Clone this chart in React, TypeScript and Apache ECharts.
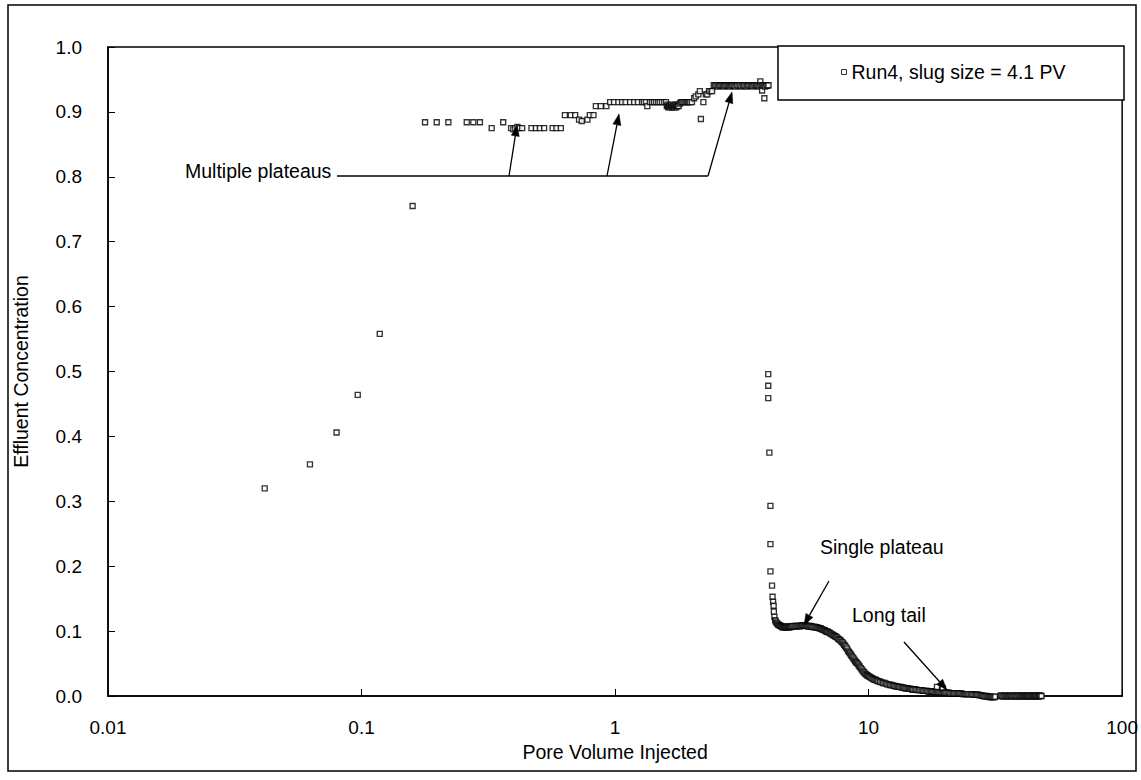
import { useEffect, useRef } from "react";
import * as echarts from "echarts";

const FONT = "'Liberation Sans', Arial, Helvetica, sans-serif";

const seriesName = "Run4, slug size = 4.1 PV";
const xAxisTitle = "Pore Volume Injected";
const yAxisTitle = "Effluent Concentration";
const xTicks = [0.01, 0.1, 1, 10, 100];
const yTicks = [0, 0.1, 0.2, 0.3, 0.4, 0.5, 0.6, 0.7, 0.8, 0.9, 1.0];

// [pore volume injected, effluent concentration]
const risePoints: [number, number][] = [
  [0.0415, 0.32], [0.0626, 0.357], [0.0797, 0.406], [0.0966, 0.464], [0.118, 0.558], [0.159, 0.755],
];

const lowPlateau: [number, number][] = [
  [0.178, 0.884], [0.198, 0.884], [0.22, 0.884], [0.26, 0.884], [0.276, 0.884], [0.293, 0.884],
  [0.326, 0.875], [0.362, 0.884], [0.389, 0.875], [0.397, 0.873], [0.404, 0.875], [0.412, 0.877],
  [0.419, 0.875], [0.43, 0.875], [0.468, 0.875], [0.487, 0.875], [0.505, 0.875], [0.525, 0.875],
  [0.567, 0.875], [0.587, 0.875], [0.611, 0.875], [0.634, 0.895], [0.669, 0.895], [0.696, 0.895],
  [0.721, 0.888], [0.739, 0.886], [0.778, 0.888], [0.795, 0.895], [0.822, 0.895],
];

const midPlateau: [number, number][] = [
  [0.84, 0.909], [0.878, 0.909], [0.924, 0.909], [0.956, 0.915], [0.99, 0.915], [1.03, 0.915],
  [1.065, 0.915], [1.1, 0.915], [1.146, 0.915], [1.188, 0.915], [1.23, 0.915], [1.277, 0.915],
  [1.3, 0.915], [1.324, 0.915], [1.34, 0.909], [1.373, 0.915], [1.4, 0.915], [1.424, 0.915],
  [1.45, 0.915], [1.477, 0.915], [1.5, 0.915], [1.53, 0.915], [1.56, 0.915], [1.587, 0.915],
  [1.6, 0.909], [1.61, 0.911], [1.62, 0.907], [1.63, 0.909], [1.64, 0.909], [1.65, 0.907],
  [1.66, 0.909], [1.67, 0.911], [1.68, 0.907], [1.69, 0.909], [1.7, 0.909], [1.71, 0.907],
  [1.72, 0.909], [1.73, 0.911], [1.74, 0.907], [1.75, 0.909], [1.76, 0.909], [1.77, 0.911],
  [1.78, 0.909], [1.8, 0.913], [1.82, 0.915], [1.84, 0.915], [1.86, 0.915], [1.88, 0.915],
  [1.9, 0.915], [1.92, 0.915], [1.94, 0.915], [1.96, 0.915], [1.98, 0.915], [2.01, 0.915],
  [2.05, 0.921], [2.08, 0.924], [2.13, 0.927], [2.16, 0.932], [2.18, 0.889], [2.23, 0.915],
  [2.28, 0.927], [2.31, 0.927], [2.345, 0.932], [2.38, 0.932], [2.414, 0.932],
];

const topPlateau: [number, number][] = [
  [2.45, 0.941], [2.48, 0.94], [2.51, 0.941], [2.54, 0.939], [2.57, 0.941], [2.6, 0.94],
  [2.63, 0.941], [2.66, 0.94], [2.69, 0.939], [2.72, 0.941], [2.75, 0.94], [2.78, 0.941],
  [2.81, 0.94], [2.84, 0.939], [2.87, 0.941], [2.9, 0.94], [2.93, 0.941], [2.96, 0.94],
  [2.99, 0.939], [3.03, 0.941], [3.07, 0.94], [3.11, 0.941], [3.15, 0.939], [3.19, 0.94],
  [3.23, 0.941], [3.27, 0.94], [3.31, 0.939], [3.35, 0.941], [3.39, 0.94], [3.43, 0.941],
  [3.47, 0.94], [3.51, 0.939], [3.55, 0.941], [3.59, 0.94], [3.63, 0.941], [3.67, 0.94],
  [3.71, 0.939], [3.74, 0.947], [3.75, 0.941], [3.79, 0.94], [3.8, 0.933], [3.83, 0.941],
  [3.87, 0.94], [3.88, 0.921], [3.91, 0.939], [3.95, 0.941], [3.99, 0.94], [4.03, 0.941],
];

const dropPoints: [number, number][] = [
  [4.02, 0.496], [4.02, 0.478], [4.02, 0.459], [4.06, 0.375], [4.1, 0.293], [4.1, 0.234],
  [4.1, 0.192], [4.16, 0.17], [4.18, 0.153], [4.2, 0.145], [4.22, 0.139], [4.23, 0.13],
  [4.25, 0.122], [4.28, 0.117],
];

const decayPoints: [number, number][] = [
  [4.3, 0.115], [4.33, 0.113], [4.36, 0.112], [4.39, 0.11], [4.42, 0.11], [4.45, 0.109],
  [4.48, 0.108], [4.51, 0.108], [4.54, 0.107], [4.57, 0.106], [4.6, 0.107], [4.63, 0.106],
  [4.66, 0.107], [4.69, 0.106], [4.72, 0.106], [4.75, 0.107], [4.78, 0.106], [4.81, 0.107],
  [4.84, 0.106], [4.87, 0.107], [4.9, 0.106], [4.93, 0.107], [4.96, 0.107], [5.0, 0.107],
  [5.05, 0.108], [5.1, 0.107], [5.15, 0.108], [5.2, 0.107], [5.25, 0.108], [5.3, 0.108],
  [5.35, 0.107], [5.4, 0.108], [5.45, 0.109], [5.5, 0.108], [5.55, 0.109], [5.6, 0.108],
  [5.65, 0.109], [5.7, 0.108], [5.75, 0.107], [5.8, 0.108], [5.85, 0.107], [5.9, 0.108],
  [5.95, 0.107], [6.0, 0.107], [6.06, 0.106], [6.12, 0.107], [6.18, 0.106], [6.24, 0.106],
  [6.3, 0.105], [6.36, 0.105], [6.42, 0.104], [6.48, 0.104], [6.54, 0.103], [6.6, 0.102],
  [6.66, 0.102], [6.72, 0.101], [6.78, 0.1], [6.84, 0.099], [6.9, 0.099], [6.96, 0.098],
  [7.03, 0.097], [7.1, 0.096], [7.17, 0.095], [7.24, 0.094], [7.31, 0.093], [7.38, 0.092],
  [7.45, 0.091], [7.52, 0.09], [7.59, 0.088], [7.66, 0.087], [7.73, 0.086], [7.8, 0.084],
  [7.87, 0.083], [7.94, 0.081], [8.01, 0.079], [8.08, 0.077], [8.15, 0.075], [8.22, 0.073],
  [8.29, 0.07], [8.36, 0.068], [8.43, 0.066], [8.5, 0.064], [8.57, 0.062], [8.64, 0.06],
  [8.71, 0.058], [8.78, 0.056], [8.85, 0.054], [8.92, 0.052], [8.99, 0.051], [9.07, 0.049],
  [9.15, 0.047], [9.23, 0.045], [9.31, 0.043], [9.39, 0.041], [9.47, 0.039], [9.55, 0.037],
  [9.63, 0.036], [9.71, 0.034], [9.79, 0.033], [9.87, 0.032], [9.95, 0.031], [10.05, 0.03],
  [10.15, 0.029], [10.25, 0.028], [10.35, 0.027], [10.45, 0.026], [10.55, 0.025], [10.65, 0.025],
  [10.75, 0.024], [10.85, 0.023], [10.95, 0.023], [11.1, 0.022], [11.25, 0.021], [11.4, 0.02],
  [11.55, 0.02], [11.7, 0.019], [11.85, 0.018], [12.0, 0.018], [12.15, 0.017], [12.3, 0.017],
  [12.45, 0.016], [12.6, 0.016], [12.75, 0.015], [12.9, 0.015], [13.05, 0.014], [13.2, 0.014],
  [13.35, 0.014], [13.5, 0.013], [13.65, 0.013], [13.8, 0.013], [13.95, 0.012], [14.1, 0.012],
  [14.25, 0.012], [14.4, 0.011], [14.55, 0.011], [14.7, 0.011], [14.85, 0.01], [15.0, 0.01],
  [15.2, 0.01], [15.4, 0.01], [15.6, 0.009], [15.8, 0.009], [16.0, 0.009], [16.2, 0.009],
  [16.4, 0.008], [16.6, 0.008], [16.8, 0.008], [17.0, 0.008], [17.2, 0.007], [17.4, 0.007],
  [17.6, 0.007], [17.8, 0.007], [18.0, 0.007], [18.2, 0.006], [18.4, 0.006], [18.6, 0.006],
  [18.6, 0.014], [18.8, 0.006], [19.0, 0.006], [19.2, 0.006], [19.4, 0.005], [19.6, 0.005],
  [19.6, 0.012], [19.8, 0.005], [20.0, 0.005], [20.25, 0.005], [20.5, 0.005], [20.75, 0.005],
  [21.0, 0.004], [21.25, 0.004], [21.5, 0.004], [21.75, 0.004], [22.0, 0.004], [22.25, 0.004],
  [22.5, 0.004], [22.75, 0.004], [23.0, 0.004], [23.25, 0.004], [23.5, 0.003], [23.75, 0.003],
  [24.0, 0.003], [24.25, 0.003], [24.5, 0.003], [24.75, 0.003], [25.0, 0.003], [25.3, 0.003],
  [25.6, 0.003], [25.9, 0.002], [26.2, 0.002], [26.5, 0.002], [26.8, 0.002], [27.1, 0.002],
  [27.4, 0.001], [27.7, 0.001], [28.0, 0.001], [28.3, 0.0], [28.6, 0.0], [28.9, -0.001],
  [29.2, 0.0], [29.5, -0.001], [29.8, -0.001], [30.1, -0.002], [30.4, -0.001], [30.7, -0.002],
  [31.0, -0.001], [31.3, -0.002], [31.6, -0.001],
];

const tailPoints: [number, number][] = [
  [33.0, 0.0], [33.35, 0.001], [33.7, 0.0], [34.05, -0.001], [34.4, 0.0], [34.75, 0.001],
  [35.1, 0.0], [35.45, -0.001], [35.8, 0.0], [36.15, 0.001], [36.5, 0.0], [36.85, -0.001],
  [37.2, 0.0], [37.55, 0.001], [37.9, 0.0], [38.25, -0.001], [38.6, 0.0], [38.95, 0.001],
  [39.3, 0.0], [39.65, -0.001], [40.0, 0.0], [40.35, 0.001], [40.7, 0.0], [41.05, -0.001],
  [41.4, 0.0], [41.75, 0.001], [42.1, 0.0], [42.45, -0.001], [42.8, 0.0], [43.15, 0.001],
  [43.5, 0.0], [43.85, -0.001], [44.2, 0.0], [44.55, 0.001], [44.9, 0.0], [45.25, -0.001],
  [45.6, 0.0], [45.95, 0.001], [46.3, 0.0], [46.65, -0.001], [47.0, 0.0], [47.35, 0.001],
  [47.7, 0.0], [48.1, 0.0],
];

type Pt = [number, number];

function arrow(from: Pt, to: Pt) {
  const dx = to[0] - from[0];
  const dy = to[1] - from[1];
  const len = Math.sqrt(dx * dx + dy * dy);
  const ux = dx / len;
  const uy = dy / len;
  const headLen = 11;
  const headHalf = 4;
  const bx = to[0] - ux * headLen;
  const by = to[1] - uy * headLen;
  return [
    {
      type: "line",
      z: 5,
      shape: { x1: from[0], y1: from[1], x2: bx, y2: by },
      style: { stroke: "#000", lineWidth: 1.3 },
    },
    {
      type: "polygon",
      z: 5,
      shape: {
        points: [
          [to[0], to[1]],
          [bx - uy * headHalf, by + ux * headHalf],
          [bx + uy * headHalf, by - ux * headHalf],
        ],
      },
      style: { fill: "#000", stroke: "#000", lineWidth: 0.5 },
    },
  ];
}

function label(text: string, x: number, y: number) {
  return {
    type: "text",
    z: 5,
    x,
    y,
    style: {
      text,
      fontSize: 19.5,
      fontFamily: FONT,
      fill: "#000",
      textAlign: "left",
      textVerticalAlign: "middle",
      verticalAlign: "middle",
    },
  };
}

export default function App() {
  const ref = useRef<HTMLDivElement>(null);

  useEffect(() => {
    document.body.style.margin = "0";
    if (!ref.current) return;
    const chart = echarts.init(ref.current, null, { renderer: "svg" });

    const data = [
      ...risePoints,
      ...lowPlateau,
      ...midPlateau,
      ...topPlateau,
      ...dropPoints,
      ...decayPoints,
      ...tailPoints,
    ];

    const graphics: any[] = [
      {
        type: "rect",
        z: 1,
        shape: { x: 8, y: 5, width: 1128, height: 766 },
        style: { fill: "none", stroke: "#000", lineWidth: 1.5 },
        silent: true,
      },
      {
        type: "rect",
        z: 10,
        shape: { x: 778, y: 46, width: 346, height: 54 },
        style: { fill: "#fff", stroke: "#000", lineWidth: 1.5 },
      },
      label("Multiple plateaus", 185, 171),
      {
        type: "line",
        z: 5,
        shape: { x1: 337, y1: 176, x2: 708, y2: 176 },
        style: { stroke: "#000", lineWidth: 1.3 },
      },
      ...arrow([509, 176], [517, 125]),
      ...arrow([607, 176], [619, 114]),
      ...arrow([708, 176], [732, 92]),
      label("Single plateau", 820, 547),
      ...arrow([829, 581], [804, 625]),
      label("Long tail", 852, 615),
      ...arrow([904, 642], [947, 690]),
    ];

    chart.setOption({
      animation: false,
      backgroundColor: "#fff",
      grid: {
        left: 108,
        right: 17,
        top: 47,
        bottom: 84,
        show: true,
        borderColor: "#000",
        borderWidth: 1.5,
        backgroundColor: "transparent",
      },
      legend: {
        show: true,
        left: 841,
        top: 62,
        z: 20,
        padding: 0,
        icon: "rect",
        itemWidth: 5,
        itemHeight: 5,
        textStyle: { fontSize: 19.5, fontFamily: FONT, color: "#000" },
        itemStyle: { color: "#fff", borderColor: "#000", borderWidth: 1 },
        data: [seriesName],
      },
      xAxis: {
        type: "log",
        logBase: 10,
        min: xTicks[0],
        max: xTicks[xTicks.length - 1],
        name: xAxisTitle,
        nameLocation: "middle",
        nameGap: 45,
        nameTextStyle: { fontSize: 19.5, fontFamily: FONT, color: "#000" },
        axisLine: { show: true, lineStyle: { color: "#000", width: 1.5 } },
        axisTick: { show: true, inside: true, length: 7, lineStyle: { color: "#000", width: 1 } },
        minorTick: { show: false },
        splitLine: { show: false },
        axisLabel: {
          margin: 22,
          fontSize: 19,
          fontFamily: FONT,
          color: "#000",
          formatter: (v: number) => String(parseFloat(Number(v).toPrecision(3))),
        },
      },
      yAxis: {
        type: "value",
        min: yTicks[0],
        max: yTicks[yTicks.length - 1],
        interval: 0.1,
        name: yAxisTitle,
        nameLocation: "middle",
        nameRotate: 90,
        nameGap: 77,
        nameTextStyle: { fontSize: 19.5, fontFamily: FONT, color: "#000" },
        axisLine: { show: true, lineStyle: { color: "#000", width: 1.5 } },
        axisTick: { show: true, inside: true, length: 7, lineStyle: { color: "#000", width: 1 } },
        splitLine: { show: false },
        axisLabel: {
          margin: 26,
          fontSize: 19,
          fontFamily: FONT,
          color: "#000",
          padding: [10, 0, 0, 0],
          formatter: (v: number) => Number(v).toFixed(1),
        },
      },
      series: [
        {
          name: seriesName,
          type: "scatter",
          symbol: "rect",
          symbolSize: 5,
          clip: false,
          itemStyle: { color: "#fff", borderColor: "#000", borderWidth: 1.35 },
          emphasis: { disabled: true },
          data,
        },
      ],
      graphic: graphics,
    });

    return () => chart.dispose();
  }, []);

  return <div ref={ref} style={{ width: 1141, height: 780 }} />;
}
